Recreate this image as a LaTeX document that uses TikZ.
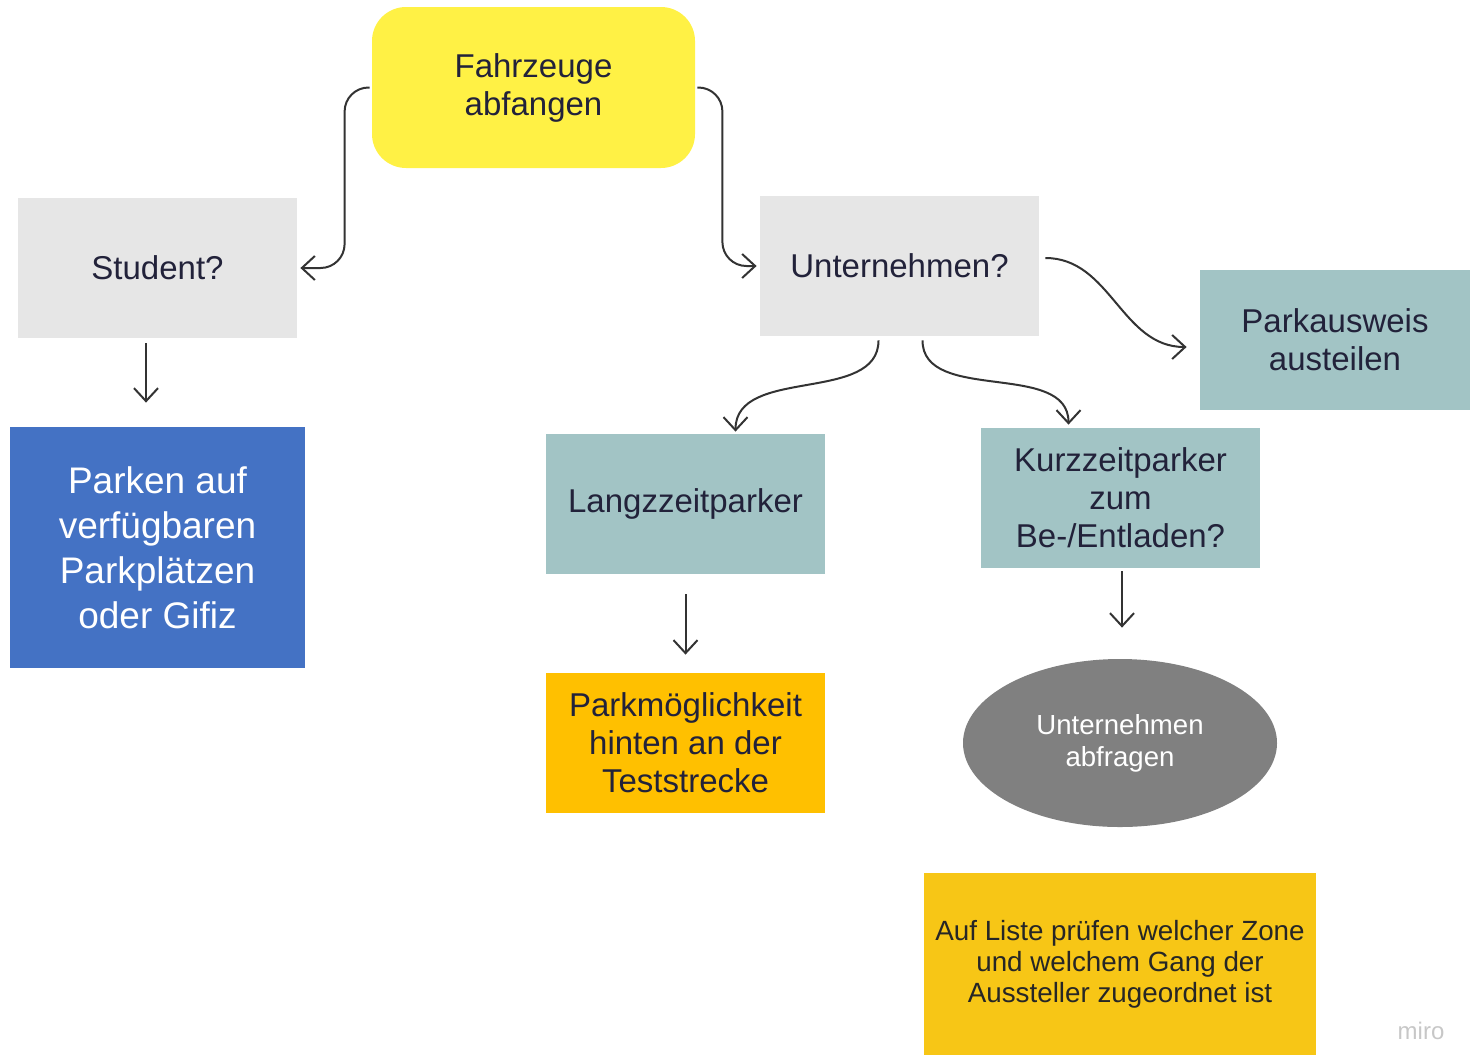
\documentclass[tikz,border=0pt]{standalone}
\usepackage{fontspec}
\setmainfont{Liberation Sans}
\usepackage{xcolor}
\usetikzlibrary{shapes.geometric, arrows.meta}

\definecolor{gelb}{HTML}{FFF145}
\definecolor{grau}{HTML}{E6E6E6}
\definecolor{blau}{HTML}{4472C4}
\definecolor{petrol}{HTML}{A2C4C5}
\definecolor{orange}{HTML}{FFC000}
\definecolor{gold}{HTML}{F7C616}
\definecolor{dunkelgrau}{HTML}{808080}
\definecolor{schrift}{HTML}{22223A}

\begin{document}
\begin{tikzpicture}[x=0.5pt, y=-0.5pt]
    \tikzstyle{base} = [rectangle, inner sep=0pt, align=center, text=schrift, font=\fontsize{16.5pt}{19pt}\selectfont]
    \tikzstyle{start} = [base, rounded corners=17pt, minimum width=161.5pt, minimum height=80.5pt, fill=gelb]
    \tikzstyle{frage} = [base, minimum width=139.5pt, minimum height=70pt, fill=grau]
    \tikzstyle{typ} = [base, minimum width=139.5pt, minimum height=70pt, fill=petrol]
    \tikzstyle{ziel} = [base, minimum width=139.5pt, minimum height=70pt, fill=orange]
    \tikzstyle{arrow} = [line width=1pt, draw=black!80, ->, >={Straight Barb[length=6.5pt,width=12pt]}]

    \useasboundingbox (0,0) rectangle (1470,1055);

    \node (fahrzeuge) [start] at (533.5,87.5) {Fahrzeuge\\abfangen};
    \node (student) [frage] at (157.5,268) {Student?};
    \node (unternehmen) [frage] at (899.5,266) {Unternehmen?};
    \node (parken) [base, minimum width=147.5pt, minimum height=120.5pt, fill=blau, text=white,
        font=\fontsize{18.5pt}{22.5pt}\selectfont] at (157.5,547.5) {Parken auf\\verfügbaren\\Parkplätzen\\oder Gifiz};
    \node (ausweis) [typ, minimum width=135pt] at (1335,340) {Parkausweis\\austeilen};
    \node (langzeit) [typ] at (685.5,504) {Langzzeitparker};
    \node (kurzzeit) [typ] at (1120.5,498) {Kurzzeitparker\\zum\\Be-/Entladen?};
    \node (moeglich) [ziel] at (685.5,743) {Parkmöglichkeit\\hinten an der\\Teststrecke};
    \node (abfragen) [ellipse, inner sep=0pt, minimum width=157pt, minimum height=84pt, fill=dunkelgrau,
        text=white, align=center, font=\fontsize{13.8pt}{16pt}\selectfont] at (1120,743) {Unternehmen\\abfragen};
    \node (liste) [base, minimum width=196pt, minimum height=91pt, fill=gold, text=black!85,
        font=\fontsize{13.9pt}{15.5pt}\selectfont] at (1120,964) {Auf Liste prüfen welcher Zone\\und welchem Gang der\\Aussteller zugeordnet ist};
    \node (miro) [text=black!22, font=\fontsize{12pt}{12pt}\selectfont] at (1421,1031) {miro};

    \draw [arrow, rounded corners=12pt, shorten <=1pt, shorten >=1.5pt] (fahrzeuge.west) -- ++(-27,0) |- (student.east);
    \draw [arrow, rounded corners=12pt, shorten <=1pt, shorten >=1.5pt] (fahrzeuge.east) -- ++(27,0) |- (unternehmen.west);
    \draw [arrow] ([shift={(6,-8)}]unternehmen.east) to[out=0, in=180] ([shift={(-13,7)}]ausweis.west);
    \draw [arrow, shorten <=2pt, shorten >=1pt] ([xshift=-10.5pt]unternehmen.south) to[out=-90, in=90] ([xshift=25pt]langzeit.north);
    \draw [arrow, shorten <=2pt, shorten >=1.5pt] ([xshift=11.5pt]unternehmen.south) to[out=-90, in=90] ([xshift=-26pt]kurzzeit.north);
    \draw [arrow, shorten <=2.5pt, shorten >=12pt] ([xshift=-5.75pt]student.south) -- ([xshift=-5.75pt]parken.north);
    \draw [arrow, shorten <=10pt, shorten >=9pt] (langzeit) -- (moeglich);
    \draw [arrow, shorten <=1.5pt, shorten >=15.5pt] ([xshift=0.75pt]kurzzeit.south) -- ([xshift=1pt]abfragen.north);
\end{tikzpicture}
\end{document}
